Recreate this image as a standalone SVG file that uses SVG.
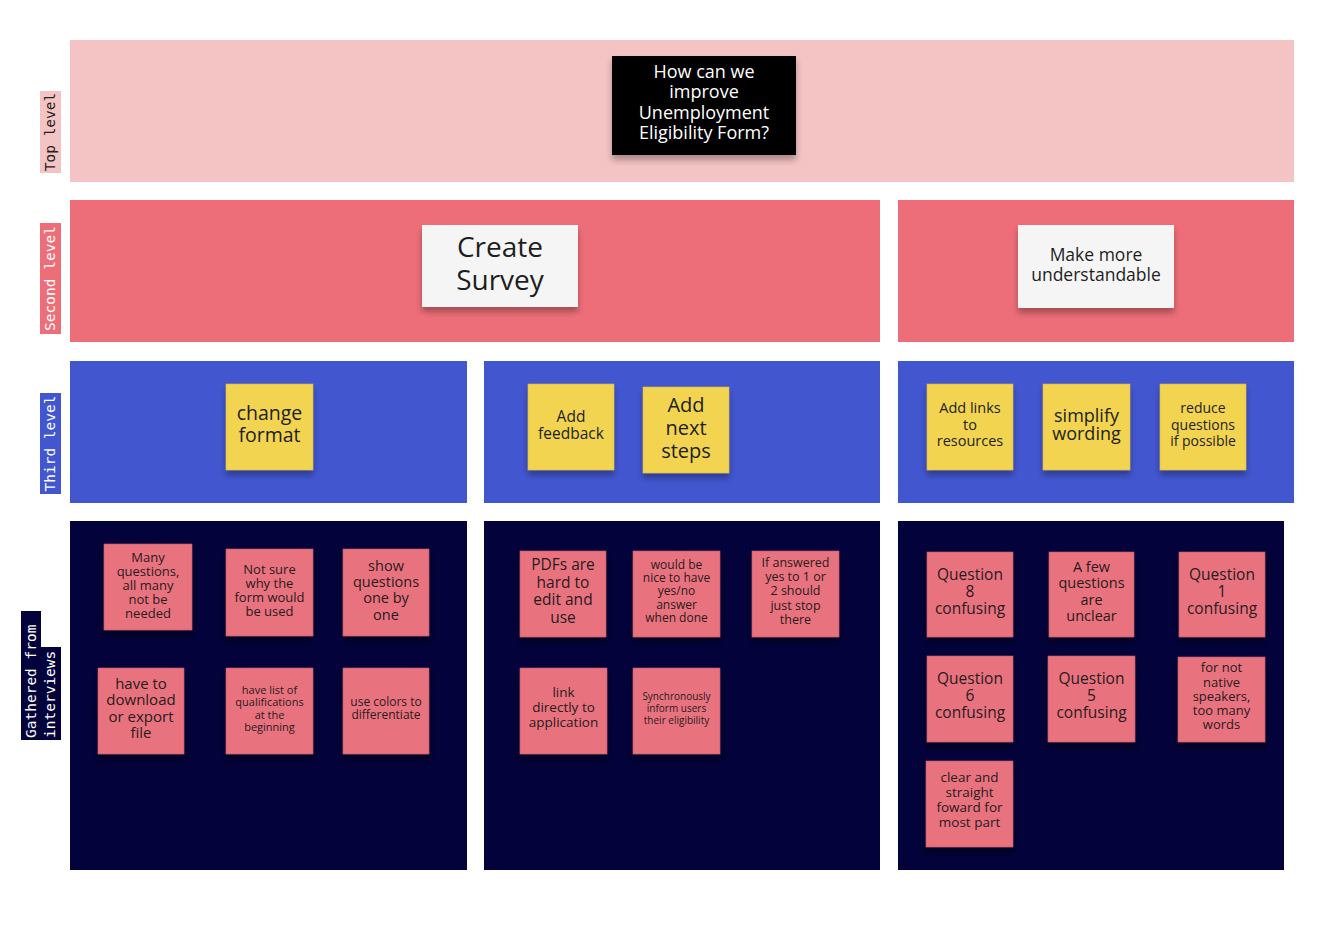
<svg xmlns="http://www.w3.org/2000/svg" width="1342" height="926" viewBox="0 0 1342 926">
<defs>
<filter id="sh" x="-20%" y="-20%" width="140%" height="150%">
<feDropShadow dx="0" dy="5" stdDeviation="3" flood-color="#000" flood-opacity="0.3"/>
</filter>
<filter id="shd" x="-20%" y="-20%" width="140%" height="150%">
<feDropShadow dx="0" dy="5" stdDeviation="3.5" flood-color="#000" flood-opacity="0.45"/>
</filter>
<style>
.b1{fill:#f4c3c3}
.b2{fill:#ed6e78}
.b3{fill:#4256d0}
.b4{fill:#03023a}
.y{fill:#f2d451;stroke:#d9bb3c;stroke-width:0.6;filter:url(#sh)}
.p{fill:#e8737f;stroke:#c85a66;stroke-width:0.6;filter:url(#shd)}
.w{fill:#f5f5f5;filter:url(#sh)}
.k{fill:#050505;filter:url(#sh)}
.t{font-family:"Open Sans","Noto Sans",sans-serif;text-anchor:middle;fill:#1e1e1e}
.tp{font-family:"Open Sans","Noto Sans",sans-serif;text-anchor:middle;fill:#2a1a1e}
.tw{font-family:"Open Sans","Noto Sans",sans-serif;text-anchor:middle;fill:#ffffff}
.lab{font-family:"DejaVu Sans Mono","Liberation Mono",monospace;font-size:14.5px}
</style>
</defs>
<rect width="1342" height="926" fill="#ffffff"/>

<g id="bands">
<rect class="b1" x="70" y="40" width="1224" height="142"/>
<rect class="b2" x="70" y="200" width="810" height="142"/>
<rect class="b2" x="898" y="200" width="396" height="142"/>
<rect class="b3" x="70" y="361" width="397" height="142"/>
<rect class="b3" x="484" y="361" width="396" height="142"/>
<rect class="b3" x="898" y="361" width="396" height="142"/>
<rect class="b4" x="70" y="521" width="397" height="349"/>
<rect class="b4" x="484" y="521" width="396" height="349"/>
<rect class="b4" x="898" y="521" width="386" height="349"/>
</g>

<g id="labels">
<g id="label-top">
<rect x="40" y="91" width="21" height="82" fill="#f4c3c3"/>
<text class="lab" fill="#222" text-anchor="middle" transform="translate(50.5,132) rotate(-90)" y="4.5">Top level</text>
</g>
<g id="label-second">
<rect x="40" y="223" width="21" height="111" fill="#ed6e78"/>
<text class="lab" fill="#fff" text-anchor="middle" transform="translate(50.5,278.5) rotate(-90)" y="4.5">Second level</text>
</g>
<g id="label-third">
<rect x="40" y="393" width="21" height="101" fill="#4256d0"/>
<text class="lab" fill="#fff" text-anchor="middle" transform="translate(50.5,443.5) rotate(-90)" y="4.5">Third level</text>
</g>
<g id="label-gathered">
<rect x="21" y="611" width="20" height="129" fill="#03023a"/>
<rect x="40" y="647" width="21" height="93" fill="#03023a"/>
<text class="lab" fill="#fff" transform="translate(31,738) rotate(-90)" y="4.5">Gathered from</text>
<text class="lab" fill="#fff" transform="translate(50.5,738) rotate(-90)" y="4.5">interviews</text>
</g>
</g>

<g id="connectors"></g>

<g id="top-question">
<rect class="k" x="612" y="56" width="184" height="99"/>
<text class="tw" style="font-size:18px"><tspan x="704" y="77.5">How can we</tspan><tspan x="704" y="98">improve</tspan><tspan x="704" y="118.5">Unemployment</tspan><tspan x="704" y="139">Eligibility Form?</tspan></text>
</g>

<g id="create-survey">
<rect class="w" x="422" y="225" width="156" height="82"/>
<text class="t" style="font-size:28px"><tspan x="500" y="257">Create</tspan><tspan x="500" y="290">Survey</tspan></text>
</g>

<g id="make-more-understandable">
<rect class="w" x="1018" y="225" width="156" height="83"/>
<text class="t" style="font-size:17.5px"><tspan x="1096" y="261">Make more</tspan><tspan x="1096" y="281">understandable</tspan></text>
</g>

<g id="change-format">
<rect class="y" x="226" y="384" width="87" height="86"/>
<text class="t" style="font-size:19.5px"><tspan x="269.5" y="420">change</tspan><tspan x="269.5" y="442">format</tspan></text>
</g>
<g id="add-feedback">
<rect class="y" x="528" y="384" width="86" height="86"/>
<text class="t" style="font-size:15.5px"><tspan x="571" y="421.5">Add</tspan><tspan x="571" y="439">feedback</tspan></text>
</g>
<g id="add-next-steps">
<rect class="y" x="643" y="387" width="86" height="86"/>
<text class="t" style="font-size:20px"><tspan x="686" y="412">Add</tspan><tspan x="686" y="435">next</tspan><tspan x="686" y="457.5">steps</tspan></text>
</g>
<g id="add-links">
<rect class="y" x="927" y="384" width="86" height="86"/>
<text class="t" style="font-size:14.5px"><tspan x="970" y="413">Add links</tspan><tspan x="970" y="429.5">to</tspan><tspan x="970" y="446">resources</tspan></text>
</g>
<g id="simplify-wording">
<rect class="y" x="1043" y="384" width="87" height="86"/>
<text class="t" style="font-size:18px"><tspan x="1086.5" y="421.5">simplify</tspan><tspan x="1086.5" y="440">wording</tspan></text>
</g>
<g id="reduce-questions">
<rect class="y" x="1160" y="384" width="86" height="86"/>
<text class="t" style="font-size:14px"><tspan x="1203" y="413">reduce</tspan><tspan x="1203" y="429.5">questions</tspan><tspan x="1203" y="446">if possible</tspan></text>
</g>

<g id="many-questions">
<rect class="p" x="104" y="544" width="88" height="86"/>
<text class="tp" style="font-size:13px"><tspan x="148" y="561.5">Many</tspan><tspan x="148" y="575.5">questions,</tspan><tspan x="148" y="590">all many</tspan><tspan x="148" y="604">not be</tspan><tspan x="148" y="617.5">needed</tspan></text>
</g>
<g id="not-sure">
<rect class="p" x="226" y="549" width="87" height="87"/>
<text class="tp" style="font-size:13px"><tspan x="269.5" y="573.5">Not sure</tspan><tspan x="269.5" y="587.5">why the</tspan><tspan x="269.5" y="601.5">form would</tspan><tspan x="269.5" y="615.5">be used</tspan></text>
</g>
<g id="show-questions">
<rect class="p" x="343" y="549" width="86" height="87"/>
<text class="tp" style="font-size:14.5px"><tspan x="386" y="570.5">show</tspan><tspan x="386" y="587">questions</tspan><tspan x="386" y="603">one by</tspan><tspan x="386" y="619.5">one</tspan></text>
</g>
<g id="download-export">
<rect class="p" x="98" y="668" width="86" height="86"/>
<text class="tp" style="font-size:15px"><tspan x="141" y="688.5">have to</tspan><tspan x="141" y="705">download</tspan><tspan x="141" y="721.5">or export</tspan><tspan x="141" y="738">file</tspan></text>
</g>
<g id="list-qualifications">
<rect class="p" x="226" y="668" width="87" height="86"/>
<text class="tp" style="font-size:11px"><tspan x="269.5" y="693.5">have list of</tspan><tspan x="269.5" y="706">qualifications</tspan><tspan x="269.5" y="718.5">at the</tspan><tspan x="269.5" y="731">beginning</tspan></text>
</g>
<g id="use-colors">
<rect class="p" x="343" y="668" width="86" height="86"/>
<text class="tp" style="font-size:12px"><tspan x="386" y="705.5">use colors to</tspan><tspan x="386" y="718.5">differentiate</tspan></text>
</g>

<g id="pdfs-hard">
<rect class="p" x="520" y="551" width="86" height="86"/>
<text class="tp" style="font-size:15.5px"><tspan x="563" y="570">PDFs are</tspan><tspan x="563" y="587.5">hard to</tspan><tspan x="563" y="605">edit and</tspan><tspan x="563" y="622.5">use</tspan></text>
</g>
<g id="yes-no-answer">
<rect class="p" x="633" y="551" width="87" height="86"/>
<text class="tp" style="font-size:12px"><tspan x="676.5" y="568.5">would be</tspan><tspan x="676.5" y="582">nice to have</tspan><tspan x="676.5" y="595">yes/no</tspan><tspan x="676.5" y="608.5">answer</tspan><tspan x="676.5" y="622">when done</tspan></text>
</g>
<g id="if-answered">
<rect class="p" x="752" y="551" width="87" height="86"/>
<text class="tp" style="font-size:12.5px"><tspan x="795.5" y="567">If answered</tspan><tspan x="795.5" y="581">yes to 1 or</tspan><tspan x="795.5" y="595">2 should</tspan><tspan x="795.5" y="609.5">just stop</tspan><tspan x="795.5" y="623.5">there</tspan></text>
</g>
<g id="link-directly">
<rect class="p" x="520" y="668" width="87" height="86"/>
<text class="tp" style="font-size:13.5px"><tspan x="563.5" y="697">link</tspan><tspan x="563.5" y="712">directly to</tspan><tspan x="563.5" y="727">application</tspan></text>
</g>
<g id="synchronously-inform">
<rect class="p" x="633" y="668" width="87" height="86"/>
<text class="tp" style="font-size:10px"><tspan x="676.5" y="700">Synchronously</tspan><tspan x="676.5" y="711.5">inform users</tspan><tspan x="676.5" y="723.5">their eligibility</tspan></text>
</g>

<g id="question-8">
<rect class="p" x="927" y="552" width="86" height="85"/>
<text class="tp" style="font-size:15.5px"><tspan x="970" y="579.5">Question</tspan><tspan x="970" y="596.5">8</tspan><tspan x="970" y="613.5">confusing</tspan></text>
</g>
<g id="few-questions">
<rect class="p" x="1049" y="552" width="85" height="85"/>
<text class="tp" style="font-size:14.5px"><tspan x="1091.5" y="571.5">A few</tspan><tspan x="1091.5" y="588">questions</tspan><tspan x="1091.5" y="604.5">are</tspan><tspan x="1091.5" y="621">unclear</tspan></text>
</g>
<g id="question-1">
<rect class="p" x="1179" y="552" width="86" height="85"/>
<text class="tp" style="font-size:15.5px"><tspan x="1222" y="579.5">Question</tspan><tspan x="1222" y="596.5">1</tspan><tspan x="1222" y="613.5">confusing</tspan></text>
</g>
<g id="question-6">
<rect class="p" x="927" y="656" width="86" height="86"/>
<text class="tp" style="font-size:15.5px"><tspan x="970" y="683.5">Question</tspan><tspan x="970" y="700.5">6</tspan><tspan x="970" y="717.5">confusing</tspan></text>
</g>
<g id="question-5">
<rect class="p" x="1048" y="656" width="87" height="86"/>
<text class="tp" style="font-size:15.5px"><tspan x="1091.5" y="683.5">Question</tspan><tspan x="1091.5" y="700.5">5</tspan><tspan x="1091.5" y="717.5">confusing</tspan></text>
</g>
<g id="not-native">
<rect class="p" x="1178" y="657" width="87" height="85"/>
<text class="tp" style="font-size:13px"><tspan x="1221.5" y="672">for not</tspan><tspan x="1221.5" y="686.5">native</tspan><tspan x="1221.5" y="701">speakers,</tspan><tspan x="1221.5" y="715">too many</tspan><tspan x="1221.5" y="729">words</tspan></text>
</g>
<g id="clear-straightforward">
<rect class="p" x="926" y="761" width="87" height="86"/>
<text class="tp" style="font-size:13.5px"><tspan x="969.5" y="782">clear and</tspan><tspan x="969.5" y="797">straight</tspan><tspan x="969.5" y="812">foward for</tspan><tspan x="969.5" y="827">most part</tspan></text>
</g>
</svg>
